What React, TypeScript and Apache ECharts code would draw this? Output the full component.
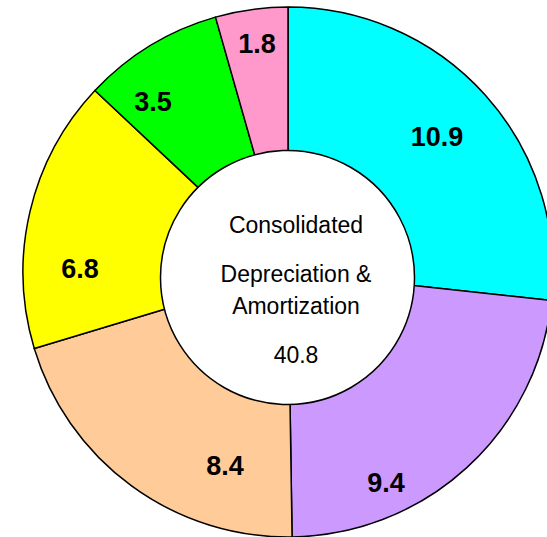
import React, { useEffect, useRef } from "react";
import * as echarts from "echarts";

const categories = ["A", "B", "C", "D", "E", "F"];
const values = [10.9, 9.4, 8.4, 6.8, 3.5, 1.8];
const totalLabel = "40.8";
const centerLines = ["Consolidated", "Depreciation &", "Amortization"];

const colors = ["#00FFFF", "#CC99FF", "#FFCC99", "#FFFF00", "#00FF00", "#FF99CC"];
// label anchor positions (pixels), matching the reference's manual label placement
const labelX = [437, 386, 225, 80, 153, 257];
const labelY = [137, 483, 466, 269, 102, 44];

const FONT = "'Liberation Sans', Arial, sans-serif";

export default function App() {
  const ref = useRef<HTMLDivElement>(null);
  useEffect(() => {
    if (!ref.current) return;
    const chart = echarts.init(ref.current, undefined, { renderer: "svg" });
    const centerText = (text: string, y: number) => ({
      type: "text",
      z: 101,
      x: 296,
      y,
      scaleY: 1.08,
      style: { text, fill: "#000", font: `23px ${FONT}`, align: "center", verticalAlign: "middle" },
    });
    chart.setOption({
      animation: false,
      backgroundColor: "#ffffff",
      series: [
        {
          type: "pie",
          center: [288, 272],
          radius: [110, 265],
          startAngle: 90,
          clockwise: true,
          emphasis: { disabled: true },
          itemStyle: { borderColor: "#000000", borderWidth: 1.5 },
          label: {
            show: true,
            position: "inside",
            formatter: (p: any) => String(p.value),
            color: "#000000",
            fontWeight: "bold",
            fontSize: 27,
            fontFamily: FONT,
          },
          labelLayout: (params: any) => ({
            x: labelX[params.dataIndex],
            y: labelY[params.dataIndex],
            align: "center",
            verticalAlign: "middle",
          }),
          data: values.map((v, i) => ({
            name: categories[i],
            value: v,
            itemStyle: { color: colors[i] },
          })),
        },
      ],
      graphic: [
        {
          type: "circle",
          z: 100,
          shape: { cx: 287.5, cy: 277.5, r: 127 },
          style: { fill: "#ffffff", stroke: "#000000", lineWidth: 1.5 },
        },
        centerText(centerLines[0], 224),
        centerText(centerLines[1], 273),
        centerText(centerLines[2], 305),
        centerText(totalLabel, 354),
      ],
    });
    return () => chart.dispose();
  }, []);
  return (
    <div
      ref={ref}
      style={{ position: "fixed", left: 0, top: 0, width: 547, height: 537 }}
    />
  );
}
